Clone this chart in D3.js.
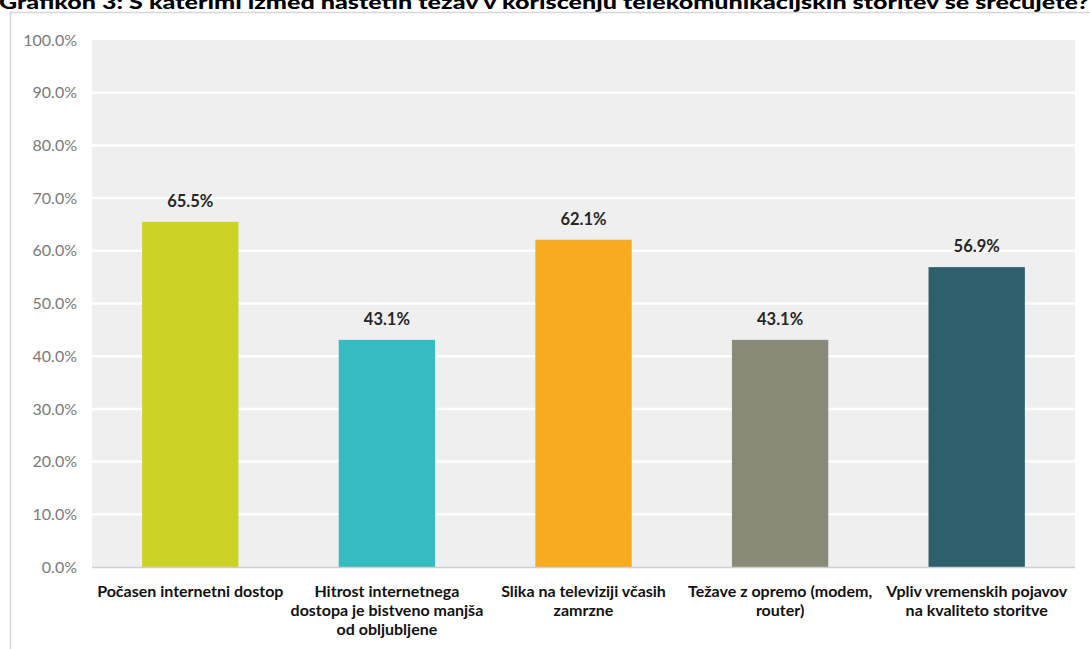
<!DOCTYPE html>
<html>
<head>
<meta charset="utf-8">
<script src="https://cdn.jsdelivr.net/npm/d3@7"></script>
<style>
  html, body { margin: 0; padding: 0; background: #ffffff; }
  svg { display: block; }
</style>
</head>
<body>
<div id="chart"></div>
<script>
// Survey results: share of respondents reporting each problem
const categories = [
  ["Počasen internetni dostop"],
  ["Hitrost internetnega", "dostopa je bistveno manjša", "od obljubljene"],
  ["Slika na televiziji včasih", "zamrzne"],
  ["Težave z opremo (modem,", "router)"],
  ["Vpliv vremenskih pojavov", "na kvaliteto storitve"]
];
const values = [65.5, 43.1, 62.1, 43.1, 56.9];
const colors = ["#cdd325", "#35bcc0", "#f7ab1f", "#8a8a79", "#2e5f6d"];
const yTicks = [0, 10, 20, 30, 40, 50, 60, 70, 80, 90, 100];
const title = "Grafikon 3: S katerimi izmed naštetih težav v koriščenju telekomunikacijskih storitev se srečujete?";

const W = 1090, H = 649;
const m = { left: 92, right: 15, top: 40, bottom: 82 };
const font = "Lato, 'Open Sans', sans-serif";

const svg = d3.select("#chart").append("svg")
  .attr("width", W).attr("height", H);

// title (runs off the top edge)
svg.append("text")
  .attr("x", -1).attr("y", 9)
  .attr("textLength", 1090)
  .attr("lengthAdjust", "spacingAndGlyphs")
  .style("font-family", font)
  .style("font-weight", "900")
  .style("font-size", "19px")
  .style("fill", "#000")
  .text(title);

// outer frame
svg.append("rect")
  .attr("x", 10.5).attr("y", 12.5)
  .attr("width", W + 20).attr("height", H + 20)
  .attr("fill", "#ffffff")
  .attr("stroke", "#d6d6d6")
  .attr("stroke-width", 1.5);

const x = d3.scaleBand()
  .domain(d3.range(categories.length))
  .range([m.left, W - m.right])
  .paddingInner(0.51)
  .paddingOuter(0.255);

const y = d3.scaleLinear()
  .domain([0, 100])
  .range([H - m.bottom, m.top]);

// plot background
svg.append("rect")
  .attr("x", m.left).attr("y", y(100))
  .attr("width", W - m.right - m.left)
  .attr("height", y(0) - y(100))
  .attr("fill", "#efefef");

// gridlines
svg.append("g")
  .selectAll("line")
  .data(yTicks.filter(t => t > 0 && t < 100))
  .join("line")
  .attr("x1", m.left).attr("x2", W - m.right)
  .attr("y1", d => y(d)).attr("y2", d => y(d))
  .attr("stroke", "#ffffff")
  .attr("stroke-width", 2.5);

// y axis labels
const yAxis = d3.axisLeft(y)
  .tickValues(yTicks)
  .tickFormat(d => d3.format(".1f")(d) + "%")
  .tickSize(0)
  .tickPadding(15);

svg.append("g")
  .attr("transform", `translate(${m.left},0)`)
  .call(yAxis)
  .call(g => g.select(".domain").remove())
  .selectAll("text")
  .style("font-family", font)
  .style("font-size", "16px")
  .style("fill", "#7a7a7a");

// bars
svg.append("g")
  .selectAll("rect")
  .data(values)
  .join("rect")
  .attr("x", (d, i) => x(i))
  .attr("y", d => y(d))
  .attr("width", x.bandwidth())
  .attr("height", d => y(0) - y(d))
  .attr("fill", (d, i) => colors[i]);

// baseline
svg.append("line")
  .attr("x1", m.left).attr("x2", W - m.right)
  .attr("y1", y(0) + 0.5).attr("y2", y(0) + 0.5)
  .attr("stroke", "#cfcfcf")
  .attr("stroke-width", 1.5);

// value labels
svg.append("g")
  .selectAll("text")
  .data(values)
  .join("text")
  .attr("x", (d, i) => x(i) + x.bandwidth() / 2)
  .attr("y", d => y(d) - 15)
  .attr("text-anchor", "middle")
  .style("font-family", font)
  .style("font-weight", "700")
  .style("font-size", "16.5px")
  .style("fill", "#262626")
  .text(d => d.toFixed(1) + "%");

// category labels
const xl = svg.append("g")
  .selectAll("text")
  .data(categories)
  .join("text")
  .attr("x", (d, i) => x(i) + x.bandwidth() / 2)
  .attr("y", y(0) + 30)
  .attr("text-anchor", "middle")
  .style("font-family", font)
  .style("font-weight", "700")
  .style("font-size", "16px")
  .style("fill", "#111");

xl.selectAll("tspan")
  .data(d => d)
  .join("tspan")
  .attr("x", function() { return d3.select(this.parentNode).attr("x"); })
  .attr("dy", (d, i) => i === 0 ? 0 : 19)
  .text(d => d);
</script>
</body>
</html>
